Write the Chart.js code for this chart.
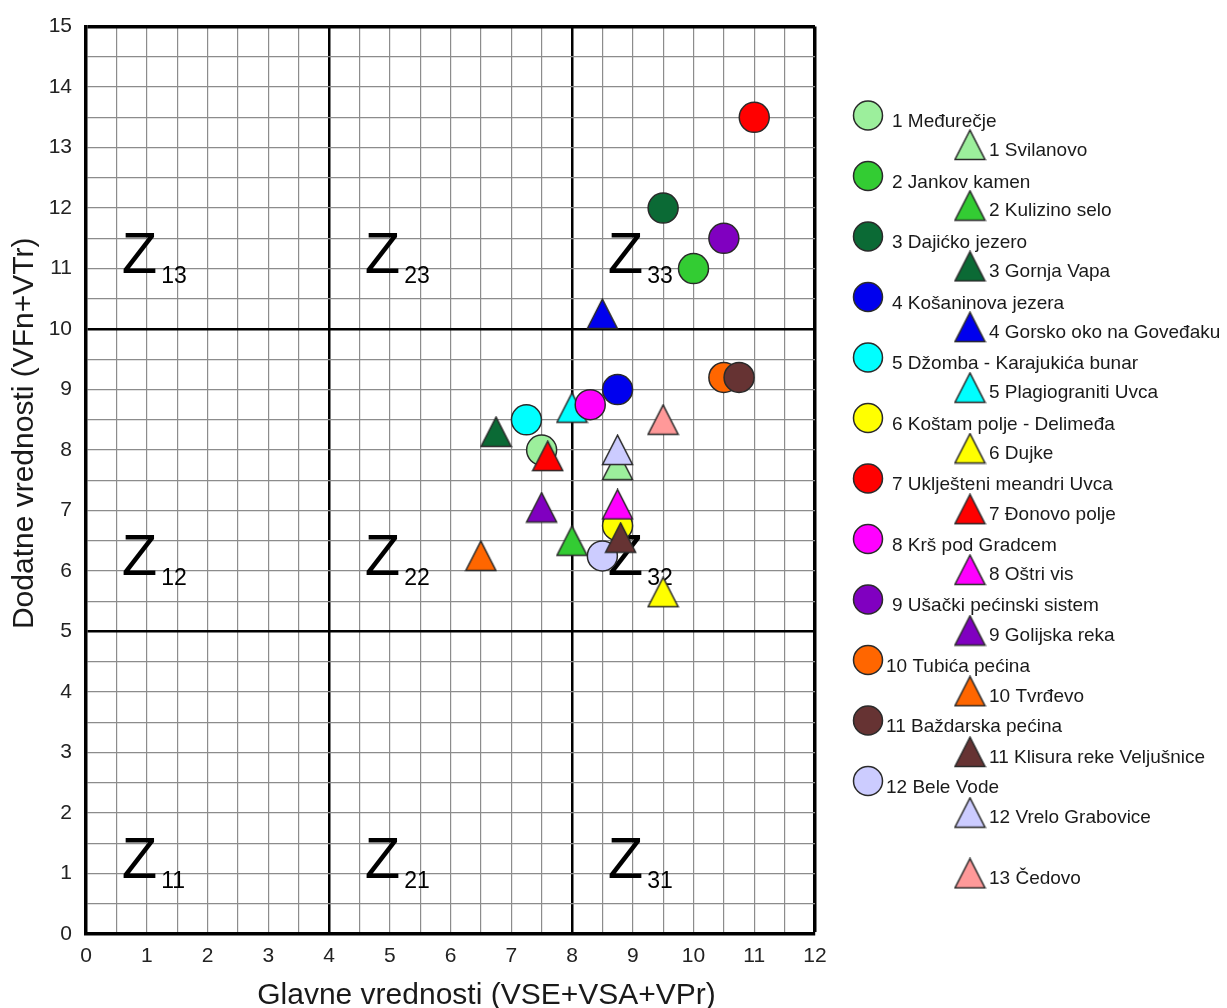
<!DOCTYPE html>
<html>
<head>
<meta charset="utf-8">
<script src="https://cdn.jsdelivr.net/npm/chart.js@4/dist/chart.umd.min.js"></script>
<style>
  html, body { margin: 0; padding: 0; background: #fff; }
  #wrap { position: relative; width: 1227px; height: 1008px; }
</style>
</head>
<body>
<div id="wrap"><canvas id="c"></canvas></div>
<script>
// ---------- data ----------
const circleLabels = ['1 Međurečje', '2 Jankov kamen', '3 Dajićko jezero', '4 Košaninova jezera',
  '5 Džomba - Karajukića bunar', '6 Koštam polje - Delimeđa', '7 Uklješteni meandri Uvca',
  '8 Krš pod Gradcem', '9 Ušački pećinski sistem', '10 Tubića pećina', '11 Baždarska pećina', '12 Bele Vode'];
const circleX = [7.5, 10, 9.5, 8.75, 7.25, 8.75, 11, 8.3, 10.5, 10.5, 10.75, 8.5];
const circleY = [8, 11, 12, 9, 8.5, 6.75, 13.5, 8.75, 11.5, 9.2, 9.2, 6.25];

const triangleLabels = ['1 Svilanovo', '2 Kulizino selo', '3 Gornja Vapa', '4 Gorsko oko na Goveđaku',
  '5 Plagiograniti Uvca', '6 Dujke', '7 Đonovo polje', '8 Oštri vis', '9 Golijska reka', '10 Tvrđevo',
  '11 Klisura reke Veljušnice', '12 Vrelo Grabovice', '13 Čedovo'];
const triangleX = [8.75, 8, 6.75, 8.5, 8, 9.5, 7.6, 8.75, 7.5, 6.5, 8.8, 8.75, 9.5];
const triangleY = [7.75, 6.5, 8.3, 10.25, 8.7, 5.65, 7.9, 7.1, 7.05, 6.25, 6.55, 8, 8.5];

const siteColors = ['#9cef9c', '#33cc33', '#0b6a35', '#0000ee', '#00ffff', '#ffff00', '#ff0000',
  '#ff00ff', '#8000c0', '#ff6600', '#663333', '#ccccff', '#ff9999'];

const xTitle = 'Glavne vrednosti (VSE+VSA+VPr)';
const yTitle = 'Dodatne vrednosti (VFn+VTr)';
const zoneCols = [1, 2, 3];
const zoneRows = [1, 2, 3];

// ---------- styling ----------
const FONT = "'Liberation Sans', Arial, Helvetica, sans-serif";
const EDGE = '#2a2a2a';

function makeTriangle(color) {
  const cv = document.createElement('canvas');
  cv.width = 33; cv.height = 32;
  const g = cv.getContext('2d');
  g.beginPath();
  g.moveTo(16.5, 1.2);
  g.lineTo(31.5, 30.5);
  g.lineTo(1.5, 30.5);
  g.closePath();
  g.fillStyle = color;
  g.fill();
  g.lineWidth = 1.5;
  g.strokeStyle = EDGE;
  g.lineJoin = 'miter';
  g.stroke();
  return cv;
}

const datasets = [];
const legendItems = [];
const nSites = Math.max(circleLabels.length, triangleLabels.length);
let k = 0;
for (let i = 0; i < nSites; i++) {
  if (i < circleLabels.length) {
    datasets.push({
      label: circleLabels[i],
      data: [{ x: circleX[i], y: circleY[i] }],
      pointStyle: 'circle',
      pointRadius: 15,
      pointHoverRadius: 15,
      backgroundColor: siteColors[i],
      borderColor: EDGE,
      borderWidth: 1.5,
      order: (i === 11) ? 100 - 21 + 0.5 : 100 - k
    });
    legendItems.push({ type: 'c', idx: i, label: circleLabels[i], color: siteColors[i] });
    k++;
  }
  if (i < triangleLabels.length) {
    const img = makeTriangle(siteColors[i]);
    datasets.push({
      label: triangleLabels[i],
      data: [{ x: triangleX[i], y: triangleY[i] }],
      pointStyle: img,
      pointRadius: 15,
      backgroundColor: siteColors[i],
      borderColor: EDGE,
      order: 100 - k
    });
    legendItems.push({ type: 't', idx: i, label: triangleLabels[i], color: siteColors[i], img: img });
    k++;
  }
}

function gridColor(edgeVal, majors) {
  return ctx => {
    const v = ctx.tick ? ctx.tick.value : null;
    if (v === edgeVal || majors.includes(v)) return '#000';
    return '#8c8c8c';
  };
}
function gridWidth(edgeVal, majors) {
  return ctx => {
    const v = ctx.tick ? ctx.tick.value : null;
    if (v === edgeVal) return 3.5;
    if (majors.includes(v)) return 2.5;
    return 1.2;
  };
}

const zonePlugin = {
  id: 'zones',
  beforeDatasetsDraw(chart) {
    const { ctx, scales: { x, y } } = chart;
    ctx.save();
    ctx.fillStyle = '#000';
    ctx.textBaseline = 'alphabetic';
    ctx.textAlign = 'left';
    zoneCols.forEach(c => {
      zoneRows.forEach(r => {
        const px = x.getPixelForValue(1 + 4 * (c - 1)) - 25;
        const py = y.getPixelForValue(1 + 5 * (r - 1)) + 4;
        ctx.font = '58px ' + FONT;
        ctx.fillText('Z', px, py);
        const w = ctx.measureText('Z').width;
        ctx.font = '23px ' + FONT;
        ctx.fillText(String(c) + String(r), px + w + 4, py + 10);
      });
    });
    ctx.restore();
  }
};

const titlePlugin = {
  id: 'axisTitles',
  afterDraw(chart) {
    const { ctx, chartArea } = chart;
    ctx.save();
    ctx.fillStyle = '#1a1a1a';
    ctx.font = '30px ' + FONT;
    ctx.textAlign = 'center';
    ctx.textBaseline = 'alphabetic';
    ctx.fillText(xTitle, (chartArea.left + chartArea.right) / 2 + 36, 1004);
    ctx.translate(33, (chartArea.top + chartArea.bottom) / 2 - 47);
    ctx.rotate(-Math.PI / 2);
    ctx.fillText(yTitle, 0, 0);
    ctx.restore();
  }
};

const legendPlugin = {
  id: 'sideLegend',
  afterDraw(chart) {
    const { ctx } = chart;
    ctx.save();
    ctx.font = '19px ' + FONT;
    ctx.fillStyle = '#1a1a1a';
    ctx.textAlign = 'left';
    ctx.textBaseline = 'alphabetic';
    legendItems.forEach(it => {
      if (it.type === 'c') {
        const cy = 115.5 + it.idx * 60.5;
        const cx = 868;
        ctx.beginPath();
        ctx.arc(cx, cy, 14.5, 0, Math.PI * 2);
        ctx.fillStyle = it.color;
        ctx.fill();
        ctx.lineWidth = 1.5;
        ctx.strokeStyle = EDGE;
        ctx.stroke();
        ctx.fillStyle = '#1a1a1a';
        const tx = it.idx >= 9 ? 886 : 892;
        ctx.fillText(it.label, tx, cy + 11.5);
      } else {
        const cy = 145 + it.idx * 60.7;
        const cx = 970;
        ctx.drawImage(it.img, cx - it.img.width / 2, cy - it.img.height / 2);
        ctx.fillStyle = '#1a1a1a';
        ctx.fillText(it.label, 989, cy + 10.5);
      }
    });
    ctx.restore();
  }
};

new Chart(document.getElementById('c'), {
  type: 'scatter',
  data: { datasets },
  options: {
    responsive: true,
    maintainAspectRatio: false,
    animation: false,
    layout: { padding: { top: 23, right: 412, bottom: 0, left: 0 } },
    plugins: { legend: { display: false }, tooltip: { enabled: false } },
    events: [],
    scales: {
      x: {
        type: 'linear', min: 0, max: 12,
        afterFit: s => { s.height = 74; },
        ticks: {
          stepSize: 0.5, autoSkip: false, maxRotation: 0, padding: 10,
          color: '#222', font: { size: 21, family: FONT },
          callback: v => Number.isInteger(v) ? String(v) : ''
        },
        grid: { drawTicks: false, color: gridColor(12, [4, 8]), lineWidth: gridWidth(12, [4, 8]) },
        border: { display: true, color: '#000', width: 3.5 },
        title: { display: false }
      },
      y: {
        type: 'linear', min: 0, max: 15,
        afterFit: s => { s.width = 86; },
        ticks: {
          stepSize: 0.5, autoSkip: false, padding: 14,
          color: '#222', font: { size: 21, family: FONT },
          callback: v => Number.isInteger(v) ? String(v) : ''
        },
        grid: { drawTicks: false, color: gridColor(15, [5, 10]), lineWidth: gridWidth(15, [5, 10]) },
        border: { display: true, color: '#000', width: 3.5 },
        title: { display: false }
      }
    }
  },
  plugins: [zonePlugin, titlePlugin, legendPlugin]
});
</script>
</body>
</html>
